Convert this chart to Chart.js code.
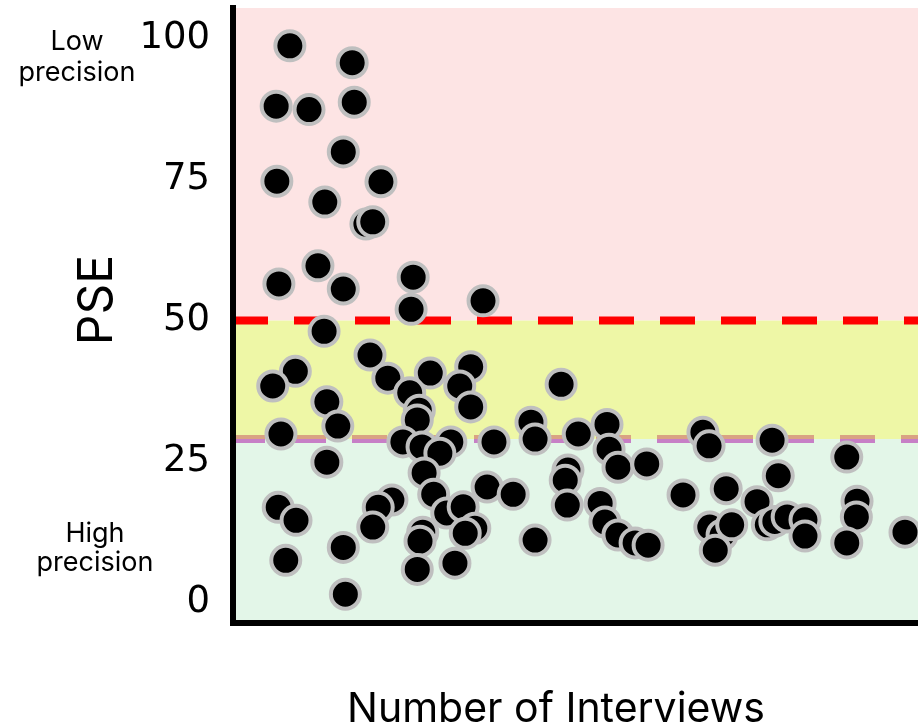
<!DOCTYPE html>
<html>
<head>
<meta charset="utf-8">
<title>PSE vs Number of Interviews</title>
<script src="https://cdn.jsdelivr.net/npm/chart.js@4/dist/chart.umd.min.js"></script>
<style>
  html, body { margin: 0; padding: 0; background: #fff; }
  canvas { display: block; }
</style>
</head>
<body>
<canvas id="pseChart" width="918" height="726"></canvas>
<script>
// ----------------------------------------------------
// data (x has no tick labels, so it is a relative 0-100 scale)
const interviews = [
    8.3, 17.4, 6.3, 11.1, 17.7, 16.1, 6.4, 21.6, 13.4, 19.4,
    20.4, 6.7, 12.4, 16.1, 26.3, 26.0, 36.5, 13.3, 20.0, 9.1,
    5.8, 22.6, 28.8, 34.7, 33.1, 34.7, 25.8, 27.2, 26.9, 13.7,
    15.3, 7.0, 24.8, 27.6, 31.8, 30.2, 38.1, 13.7, 27.9, 29.3,
    31.2, 33.6, 35.3, 33.9, 37.1, 40.9, 6.6, 9.2, 16.1, 7.7,
    16.4, 23.2, 21.2, 20.4, 27.7, 27.3, 26.9, 32.4, 43.5, 44.1,
    47.9, 50.4, 54.6, 54.9, 56.2, 60.4, 68.6, 69.5, 78.7, 89.6,
    79.6, 48.9, 48.5, 48.8, 53.6, 54.3, 56.2, 58.7, 60.6, 44.1,
    65.7, 72.0, 76.5, 69.6, 71.4, 72.8, 70.4, 78.0, 79.1, 80.9,
    83.5, 83.5, 91.1, 91.0, 89.6, 98.1
];
const pse = [
    98.7, 95.7, 88.0, 87.4, 88.7, 79.9, 74.7, 74.6, 71.0, 67.1,
    67.5, 56.5, 59.7, 55.6, 57.7, 52.0, 53.5, 48.1, 43.9, 41.0,
    38.4, 39.8, 40.7, 41.8, 38.4, 34.7, 37.2, 34.1, 32.4, 35.6,
    31.3, 29.9, 28.5, 27.6, 28.5, 26.5, 28.5, 24.9, 23.0, 19.2,
    15.9, 17.0, 13.2, 12.3, 20.5, 19.2, 16.9, 14.6, 9.8, 7.5,
    1.5, 18.2, 16.9, 13.4, 12.5, 10.9, 5.9, 7.0, 32.0, 29.0,
    38.7, 29.9, 31.6, 27.2, 24.0, 24.6, 30.2, 27.8, 28.8, 25.8,
    22.5, 23.5, 21.7, 17.3, 17.6, 14.3, 12.0, 10.6, 10.2, 11.1,
    19.1, 20.2, 17.9, 13.4, 12.0, 13.8, 9.3, 13.8, 14.4, 15.2,
    14.7, 11.8, 18.0, 15.2, 10.6, 12.5
];
const yTicks = [ 0, 25, 50, 75, 100 ];
const lowPrecisionLine = 50;
const highPrecisionLine = 29;
// ----------------------------------------------------
const FONT = 'Inter, "Liberation Sans", sans-serif';
//
const bandsPlugin = {
    id: 'bands',
    beforeDraw( chart ) {
        const { ctx, chartArea: a, scales: { y } } = chart;
        const yLow = y.getPixelForValue( lowPrecisionLine );
        const yHigh = y.getPixelForValue( highPrecisionLine );
        ctx.save();
        ctx.fillStyle = '#fde4e4';
        ctx.fillRect( a.left, a.top, a.right - a.left, yLow - a.top );
        ctx.fillStyle = '#eef7a6';
        ctx.fillRect( a.left, yLow, a.right - a.left, yHigh - yLow );
        ctx.fillStyle = '#e3f6e8';
        ctx.fillRect( a.left, yHigh, a.right - a.left, a.bottom - yHigh );
        // threshold lines
        ctx.setLineDash( [ 35, 26 ] );
        ctx.lineWidth = 8;
        ctx.strokeStyle = '#ff0000';
        ctx.beginPath();
        ctx.moveTo( a.left, yLow );
        ctx.lineTo( a.right, yLow );
        ctx.stroke();
        ctx.lineDashOffset = 3;
        ctx.lineWidth = 4;
        ctx.strokeStyle = '#d9a383';
        ctx.beginPath();
        ctx.moveTo( a.left, yHigh - 2 );
        ctx.lineTo( a.right, yHigh - 2 );
        ctx.stroke();
        ctx.strokeStyle = '#c77fc6';
        ctx.beginPath();
        ctx.moveTo( a.left, yHigh + 2 );
        ctx.lineTo( a.right, yHigh + 2 );
        ctx.stroke();
        ctx.restore();
    }
};
//
const labelsPlugin = {
    id: 'labels',
    afterDraw( chart ) {
        const ctx = chart.ctx;
        ctx.save();
        ctx.fillStyle = '#000';
        ctx.textAlign = 'center';
        ctx.textBaseline = 'alphabetic';
        ctx.font = '27px ' + FONT;
        ctx.fillText( 'Low', 77, 50 );
        ctx.fillText( 'precision', 77, 81 );
        ctx.fillText( 'High', 95, 542 );
        ctx.fillText( 'precision', 95, 571 );
        ctx.font = '41px ' + FONT;
        ctx.fillText( 'Number of Interviews', 556, 722 );
        ctx.translate( 112, 300 );
        ctx.rotate( -Math.PI / 2 );
        ctx.font = '48px ' + FONT;
        ctx.fillText( 'PSE', 0, 0 );
        ctx.restore();
    }
};
//
const points = interviews.map( ( x, i ) => ({ x: x, y: pse[ i ] }) );
//
new Chart( document.getElementById( 'pseChart' ), {
    type: 'scatter',
    data: {
        datasets: [
            {
                data: points,
                backgroundColor: '#000000',
                borderColor: '#bfbfbf',
                borderWidth: 4,
                pointRadius: 14.5,
                pointHoverRadius: 14.5,
                clip: false
            }
        ]
    },
    options: {
        responsive: false,
        animation: false,
        events: [],
        layout: { autoPadding: false, padding: { top: 8, right: 0, left: 0, bottom: 0 } },
        plugins: {
            legend: { display: false },
            tooltip: { enabled: false }
        },
        scales: {
            x: {
                type: 'linear',
                min: 0,
                max: 100,
                grid: { display: false, drawTicks: false },
                border: { display: true, color: '#000', width: 6 },
                ticks: { display: false },
                afterFit: ( s ) => { s.height = 103; s.paddingLeft = 0; s.paddingRight = 0; }
            },
            y: {
                type: 'linear',
                min: -3.6,
                max: 105.4,
                grid: { display: false, drawTicks: false },
                border: { display: true, color: '#000', width: 6 },
                ticks: {
                    color: '#000',
                    padding: 23,
                    font: { family: '"DejaVu Sans", sans-serif', size: 37 }
                },
                afterBuildTicks: ( s ) => { s.ticks = yTicks.map( v => ({ value: v }) ); },
                afterFit: ( s ) => { s.width = 233; s.paddingTop = 0; s.paddingBottom = 0; }
            }
        }
    },
    plugins: [ bandsPlugin, labelsPlugin ]
});
</script>
</body>
</html>
